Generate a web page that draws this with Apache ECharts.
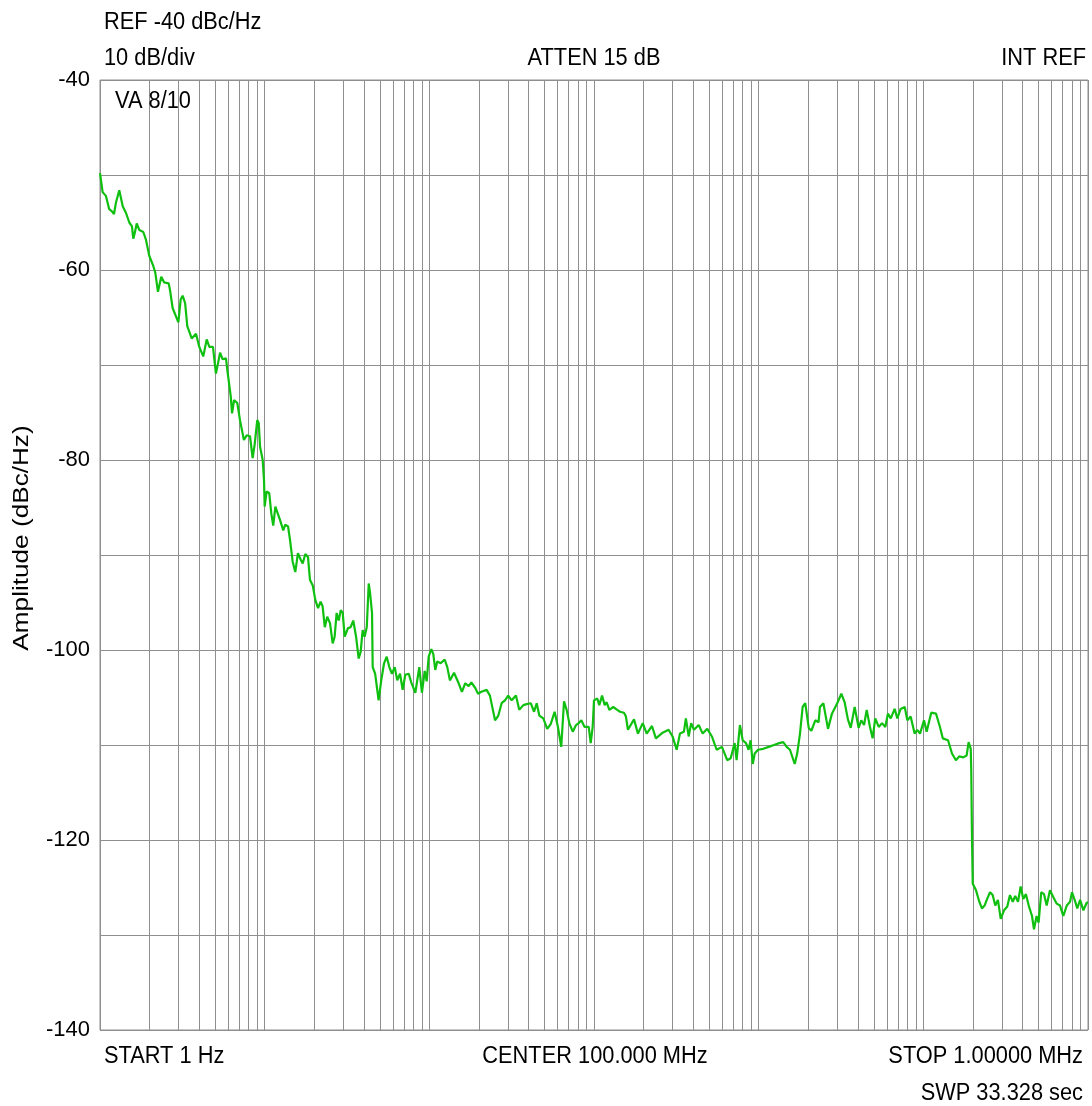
<!DOCTYPE html>
<html>
<head>
<meta charset="utf-8">
<script src="https://cdn.jsdelivr.net/npm/echarts@6/dist/echarts.min.js"></script>
<style>
html,body{margin:0;padding:0;background:#fff;}
#chart{width:1092px;height:1106px;}
</style>
</head>
<body>
<div id="chart"></div>
<script>
// Frequency positions, as log10(Hz) (1 Hz .. 1 MHz)
const freqExp = [
0.000,0.016,0.036,0.056,0.071,0.085,0.097,0.117,0.126,0.138,0.158,0.178,0.194,0.202,0.211,0.223,0.239,0.263,0.279,0.299,
0.324,0.336,0.352,0.360,0.372,0.389,0.417,0.425,0.441,0.462,0.476,0.490,0.502,0.517,0.530,0.557,0.583,0.603,0.627,0.648,
0.664,0.686,0.704,0.717,0.729,0.745,0.765,0.773,0.794,0.802,0.814,0.834,0.850,0.874,0.891,0.911,0.927,0.939,0.955,0.964,
0.972,0.988,0.996,1.000,1.012,1.028,1.040,1.052,1.065,1.077,1.093,1.113,1.125,1.142,1.154,1.170,1.186,1.202,1.219,1.231,
1.247,1.263,1.275,1.292,1.307,1.324,1.340,1.352,1.365,1.380,1.397,1.413,1.425,1.437,1.450,1.462,1.474,1.486,1.506,1.522,
1.538,1.555,1.571,1.583,1.595,1.607,1.620,1.632,1.640,1.652,1.656,1.671,1.692,1.708,1.725,1.741,1.757,1.773,1.790,1.805,
1.822,1.838,1.854,1.875,1.890,1.915,1.939,1.955,1.972,1.984,1.996,2.012,2.024,2.036,2.048,2.069,2.093,2.109,2.125,2.150,
2.178,2.198,2.218,2.239,2.255,2.279,2.296,2.316,2.348,2.368,2.399,2.419,2.439,2.459,2.479,2.500,2.526,2.546,2.571,2.591,
2.616,2.636,2.652,2.668,2.692,2.716,2.737,2.761,2.781,2.801,2.818,2.834,2.850,2.871,2.891,2.907,2.923,2.943,2.968,2.980,
2.992,3.000,3.020,3.032,3.049,3.065,3.077,3.093,3.117,3.141,3.158,3.182,3.194,3.206,3.243,3.267,3.296,3.320,3.352,3.376,
3.417,3.453,3.477,3.502,3.522,3.546,3.558,3.575,3.590,3.607,3.636,3.660,3.688,3.716,3.745,3.777,3.809,3.830,3.854,3.866,
3.886,3.903,3.923,3.939,3.951,3.964,3.976,3.996,4.028,4.061,4.093,4.125,4.149,4.170,4.190,4.202,4.219,4.234,4.251,4.267,
4.283,4.304,4.320,4.344,4.364,4.372,4.393,4.421,4.445,4.477,4.502,4.522,4.542,4.559,4.583,4.607,4.623,4.640,4.656,4.676,
4.692,4.708,4.729,4.749,4.769,4.785,4.802,4.826,4.842,4.862,4.887,4.903,4.923,4.947,4.963,4.980,5.004,5.020,5.048,5.077,
5.101,5.118,5.150,5.174,5.198,5.218,5.243,5.263,5.275,5.288,5.291,5.296,5.300,5.320,5.340,5.356,5.372,5.385,5.405,5.421,
5.437,5.453,5.470,5.490,5.510,5.526,5.543,5.558,5.575,5.591,5.607,5.623,5.640,5.660,5.672,5.688,5.700,5.716,5.733,5.749,
5.769,5.789,5.810,5.830,5.850,5.871,5.891,5.903,5.919,5.935,5.952,5.972,5.992,6.000
];
// Amplitude in dBc/Hz
const amplitude = [
-49.8,-51.8,-52.2,-53.6,-53.8,-54.1,-52.9,-51.6,-51.7,-53.3,-54.0,-55.0,-55.4,-56.7,-56.1,-55.1,-55.8,-56.0,-56.8,-58.5,
-59.6,-60.3,-62.3,-62.1,-60.7,-61.3,-61.4,-62.1,-64.0,-64.9,-65.5,-63.1,-62.7,-63.5,-65.9,-67.2,-66.7,-68.1,-69.1,-67.3,
-68.1,-68.1,-70.9,-69.8,-68.7,-69.4,-69.3,-70.5,-73.3,-75.1,-73.7,-74.0,-75.8,-77.9,-77.4,-77.5,-79.8,-78.4,-75.8,-76.1,
-78.6,-80.0,-82.1,-84.9,-83.3,-83.5,-85.6,-86.9,-84.9,-84.7,-86.3,-87.4,-86.8,-87.0,-88.4,-90.7,-91.8,-89.8,-90.5,-90.9,
-89.9,-90.2,-92.6,-93.2,-94.7,-95.6,-94.9,-95.4,-97.6,-96.5,-97.2,-99.3,-98.6,-96.1,-96.9,-95.8,-96.1,-98.6,-97.7,-97.6,
-96.9,-98.6,-100.9,-100.2,-97.9,-98.6,-97.6,-93.0,-94.0,-96.1,-101.8,-102.5,-105.3,-103.2,-101.4,-100.7,-101.8,-102.5,-101.8,-103.2,
-102.5,-104.2,-102.6,-102.5,-103.4,-104.5,-101.8,-104.5,-102.2,-103.3,-100.7,-99.9,-100.4,-102.1,-101.2,-101.4,-101.0,-101.8,-103.2,-102.4,
-103.5,-104.4,-103.5,-103.8,-103.4,-104.0,-104.6,-104.4,-104.2,-104.8,-107.4,-106.9,-105.6,-105.3,-104.8,-105.3,-104.8,-106.3,-105.8,-105.7,
-105.6,-106.5,-105.6,-106.9,-107.2,-108.3,-107.8,-106.5,-108.1,-110.2,-105.4,-106.3,-107.7,-108.6,-107.9,-107.7,-107.4,-108.1,-108.1,-109.8,
-108.1,-105.3,-105.1,-105.8,-104.8,-105.8,-105.5,-106.3,-106.0,-106.3,-106.5,-106.6,-107.0,-108.4,-107.3,-108.8,-107.7,-108.8,-108.0,-109.3,
-108.7,-108.4,-109.1,-110.5,-108.8,-108.6,-107.2,-109.1,-107.7,-108.4,-107.9,-108.8,-108.3,-109.1,-110.5,-110.2,-111.6,-111.4,-109.8,-111.6,
-107.9,-109.5,-109.8,-110.5,-109.5,-112.0,-110.9,-110.5,-110.4,-110.2,-110.0,-109.8,-109.7,-110.2,-110.5,-110.3,-112.0,-110.9,-108.8,-106.0,
-105.6,-108.2,-108.5,-107.4,-107.6,-106.0,-105.6,-108.3,-106.7,-105.6,-104.6,-105.5,-107.3,-108.2,-106.0,-108.2,-107.4,-107.9,-106.3,-108.1,
-109.3,-107.2,-108.1,-107.7,-108.1,-106.7,-107.2,-106.2,-107.2,-106.2,-106.0,-107.4,-107.0,-108.8,-108.4,-108.8,-107.4,-108.6,-106.6,-106.7,
-108.1,-109.3,-109.5,-110.9,-111.6,-111.2,-111.3,-111.1,-109.7,-110.4,-112.7,-120.4,-124.6,-125.3,-126.5,-127.2,-126.9,-126.3,-125.5,-125.8,
-126.9,-126.3,-128.3,-127.4,-127.0,-125.8,-126.5,-125.9,-126.5,-124.9,-126.2,-125.7,-126.9,-128.0,-129.4,-128.0,-128.7,-125.5,-125.7,-126.9,
-125.3,-126.0,-126.7,-126.9,-128.0,-126.9,-126.5,-125.5,-126.3,-127.2,-126.3,-127.4,-126.6,-126.6
];
// Axis ticks / grid
const yTickLabels = [-40, -60, -80, -100, -120, -140];
const decades = [1, 10, 100, 1000, 10000, 100000, 1000000];
const decadeMultipliers = [1, 2, 3, 4, 5, 6, 7, 8, 9];
// Annotation texts
const txtRef = 'REF -40 dBc/Hz';
const txtDiv = '10 dB/div';
const txtAtten = 'ATTEN 15 dB';
const txtIntRef = 'INT REF';
const txtVa = 'VA 8/10';
const txtStart = 'START 1 Hz';
const txtCenter = 'CENTER 100.000 MHz';
const txtStop = 'STOP 1.00000 MHz';
const txtSwp = 'SWP 33.328 sec';
const txtYName = 'Amplitude (dBc/Hz)';

const seriesData = freqExp.map((e, i) => [Math.pow(10, e), amplitude[i]]);
const gridFreqs = [];
decades.forEach(d => {
  if (d === 1000000) { gridFreqs.push(d); return; }
  decadeMultipliers.forEach(m => gridFreqs.push(m * d));
});

const FONT = '"Liberation Sans", Arial, sans-serif';
const FS = 21.8;
const SY = 1.13;
function txt(text, x, y, align, extra) {
  return Object.assign({
    type: 'text', x: x, y: y, scaleY: SY, silent: true, z: 100,
    style: { text: text, fontSize: FS, fontFamily: FONT, fill: '#000',
             textAlign: align, textVerticalAlign: 'middle' }
  }, extra || {});
}

const chart = echarts.init(document.getElementById('chart'), null, { renderer: 'canvas' });
chart.setOption({
  backgroundColor: '#fff',
  animation: false,
  grid: { left: 100, right: 4, top: 80, bottom: 76, show: true, borderColor: '#8f8f8f', borderWidth: 1, backgroundColor: 'transparent' },
  xAxis: {
    type: 'log', logBase: 10, min: 1, max: 1000000,
    axisLine: { show: false }, axisTick: { show: false }, axisLabel: { show: false },
    splitLine: { show: false }
  },
  yAxis: {
    type: 'value', min: -140, max: -40, interval: 10,
    axisLine: { show: false }, axisTick: { show: false },
    axisLabel: {
      fontSize: 22, fontFamily: FONT, color: '#000', margin: 10,
      formatter: v => (yTickLabels.indexOf(v) >= 0 ? String(v) : '')
    },
    splitLine: { show: true, lineStyle: { color: '#8f8f8f', width: 1 } }
  },
  series: [{
    type: 'line',
    data: seriesData,
    showSymbol: false,
    symbol: 'none',
    lineStyle: { color: '#10c010', width: 2.2 },
    z: 10,
    markLine: {
      silent: true, symbol: 'none', animation: false,
      label: { show: false },
      lineStyle: { color: '#8f8f8f', width: 1, type: 'solid' },
      emphasis: { disabled: true },
      data: gridFreqs.map(f => ({ xAxis: f }))
    }
  }],
  graphic: [
    txt(txtRef, 104, 22, 'left'),
    txt(txtDiv, 104, 58, 'left'),
    txt(txtAtten, 594, 58, 'center'),
    txt(txtIntRef, 1086, 58, 'right'),
    txt(txtVa, 115, 101, 'left'),
    txt(txtStart, 104, 1056, 'left'),
    txt(txtCenter, 595, 1056, 'center'),
    txt(txtStop, 1083, 1056, 'right'),
    txt(txtSwp, 1083, 1093, 'right'),
    {
      type: 'text', x: 22, y: 538, rotation: Math.PI / 2, scaleX: 1.2, silent: true, z: 100,
      style: { text: txtYName, fontSize: FS, fontFamily: FONT, fill: '#000',
               textAlign: 'center', textVerticalAlign: 'middle' }
    }
  ]
});
</script>
</body>
</html>
